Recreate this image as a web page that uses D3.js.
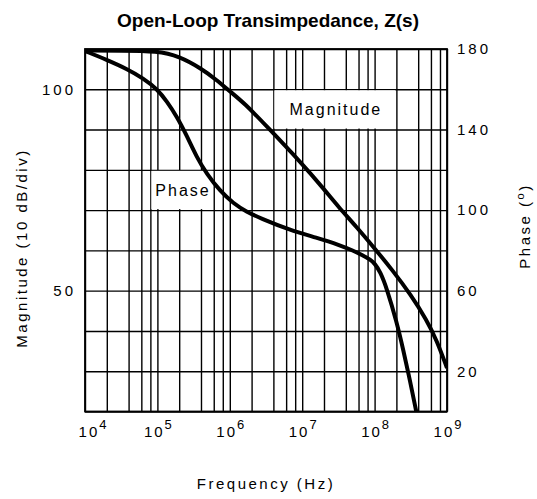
<!DOCTYPE html>
<html><head><meta charset="utf-8">
<script src="https://cdn.jsdelivr.net/npm/d3@7"></script>
<style>
html,body{margin:0;padding:0;background:#fff;}
text{font-family:"Liberation Sans",Arial,sans-serif;fill:#000;}
</style></head>
<body><svg id="c" width="537" height="499"></svg>
<script>
// ---- data ----
const magFreq = [1e4,3.16e4,1e5,2e5,4e5,6.6e5,1e6,1.6e6,3.16e6,1e7,2e7,3.16e7,5.6e7,1e8,1.78e8,3.16e8,5.25e8,7.2e8,1e9];
const magDb   = [109.6,109.6,109.5,108.2,105.2,102.3,99.5,96.5,91.0,81.5,75.2,70.8,65.9,60.5,55.0,49.0,42.7,37.7,30.8];
const phFreq  = [1e4,2e4,3.8e4,6.4e4,1e5,1.35e5,1.86e5,2.54e5,3.47e5,4.79e5,7.33e5,1.12e6,1.7e6,2.63e6,6.76e6,1.58e7,3.31e7,5.08e7,6.7e7,8.71e7,1e8,1.2e8,1.47e8,2.02e8,2.49e8,3.09e8,3.76e8];
const phDeg   = [179,174.6,170.1,165.4,160.0,154.0,146.4,137.0,126.5,118.0,109.5,103.3,99.2,96.0,90.1,86.3,82.6,79.8,77.8,75.4,73.6,69.3,61.3,44.4,30.6,15.1,0];
const decadeTicks = [1e4,1e5,1e6,1e7,1e8,1e9];
const decadeExp   = ["4","5","6","7","8","9"];
const gridMultipliers = [1,2,4,6,8];
const magTicks = [50,100];
const magGrid  = [20,30,40,50,60,70,80,90,100,110];
const phTicks  = [20,60,100,140,180];

const title = "Open-Loop Transimpedance, Z(s)";
const xTitle = "Frequency (Hz)";
const yTitle = "Magnitude (10 dB/div)";

// ---- layout ----
const L=85, R=447, T=49, B=411.5;
const svg = d3.select("#c");
const x = d3.scaleLog().domain([1e4,1e9]).range([L,R]);
const yM = d3.scaleLinear().domain([20,110]).range([B,T]);
const yP = d3.scaleLinear().domain([0,180]).range([B,T]);

const gridFreqs = [];
decadeTicks.slice(0,-1).forEach(d=>gridMultipliers.forEach(m=>gridFreqs.push(d*m)));
gridFreqs.push(1e9);

// grid
const gx = svg.append("g").attr("transform",`translate(0,${B})`)
  .call(d3.axisBottom(x).tickValues(gridFreqs).tickSize(-(B-T)).tickFormat(""));
gx.select(".domain").remove();
gx.selectAll("line").attr("stroke","#000").attr("stroke-width",1.4);
const gy = svg.append("g").attr("transform",`translate(${L},0)`)
  .call(d3.axisLeft(yM).tickValues(magGrid).tickSize(-(R-L)).tickFormat(""));
gy.select(".domain").remove();
gy.selectAll("line").attr("stroke","#000").attr("stroke-width",1.4);

// frame
svg.append("rect").attr("x",L).attr("y",T).attr("width",R-L).attr("height",B-T)
  .attr("fill","none").attr("stroke","#000").attr("stroke-width",1.8);

// label boxes
function boxLabel(txt, f0, f1, v0, v1, scale){
  const x0=x(f0)+1, x1=x(f1)-1, y0=scale(v1)+1, y1=scale(v0)-1;
  svg.append("rect").attr("x",x0).attr("y",y0).attr("width",x1-x0).attr("height",y1-y0).attr("fill","#fff");
  svg.append("text").attr("x",(x0+x1)/2+1).attr("y",(y0+y1)/2).attr("dy","0.36em")
    .attr("text-anchor","middle").attr("font-size",16).attr("letter-spacing",2)
    .text(txt);
}
boxLabel("Magnitude", 4e6, 2e8, 90, 100, yM);
boxLabel("Phase", 8e4, 6e5, 100, 120, yP);

// curves
svg.append("clipPath").attr("id","clip").append("rect").attr("x",L).attr("y",T).attr("width",R-L).attr("height",B-T);
const magLine = d3.line().x((d,i)=>x(magFreq[i])).y(d=>yM(d)).curve(d3.curveBasis);
const phLine = d3.line().x((d,i)=>x(phFreq[i])).y(d=>yP(d)).curve(d3.curveBasis);
svg.append("path").attr("d",magLine(magDb)).attr("fill","none").attr("stroke","#000").attr("stroke-width",4).attr("clip-path","url(#clip)");
svg.append("path").attr("d",phLine(phDeg)).attr("fill","none").attr("stroke","#000").attr("stroke-width",4).attr("clip-path","url(#clip)");

// left axis labels
const la = svg.append("g").attr("transform",`translate(${L},0)`)
  .call(d3.axisLeft(yM).tickValues(magTicks).tickSize(0).tickPadding(9));
la.select(".domain").remove();
la.selectAll("text").attr("font-size",15).attr("letter-spacing",3).attr("font-family","Liberation Sans");

// right axis labels
const ra = svg.append("g").attr("transform",`translate(${R},0)`)
  .call(d3.axisRight(yP).tickValues(phTicks).tickSize(0).tickPadding(10));
ra.select(".domain").remove();
ra.selectAll("text").attr("font-size",15).attr("letter-spacing",3).attr("font-family","Liberation Sans");

// bottom axis labels
const ba = svg.append("g").attr("transform",`translate(0,${B})`)
  .call(d3.axisBottom(x).tickValues(decadeTicks).tickSize(0).tickPadding(0).tickFormat(""));
ba.select(".domain").remove();
ba.selectAll(".tick").each(function(d,i){
  const t = d3.select(this).append("text").attr("y",25).attr("font-size",15)
    .attr("text-anchor","middle").attr("fill","#000").attr("font-family","Liberation Sans")
    .attr("x", i===0 ? 7 : 0);
  t.append("tspan").attr("letter-spacing",2).text("10");
  t.append("tspan").attr("font-size",13).attr("dy",-8).text(decadeExp[i]);
});

// titles
svg.append("text").attr("x",268).attr("y",27).attr("text-anchor","middle")
  .attr("font-size",19).attr("font-weight","bold").text(title);
svg.append("text").attr("x",266).attr("y",489).attr("text-anchor","middle")
  .attr("font-size",15).attr("letter-spacing",2.5).text(xTitle);
svg.append("text").attr("transform","translate(27,248) rotate(-90)").attr("text-anchor","middle")
  .attr("font-size",15).attr("letter-spacing",2.5).text(yTitle);
const pt = svg.append("text").attr("transform","translate(530,226) rotate(-90)").attr("text-anchor","middle")
  .attr("font-size",15).attr("letter-spacing",2.5);
pt.append("tspan").text("Phase (");
pt.append("tspan").attr("font-size",11).attr("dy",-6).text("o");
pt.append("tspan").attr("dy",6).text(")");
</script></body></html>
